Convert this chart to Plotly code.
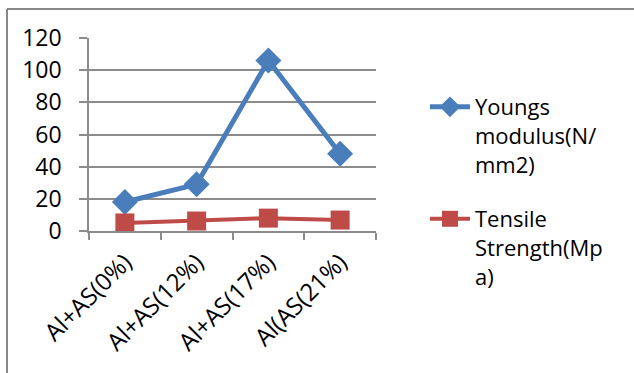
import plotly.graph_objects as go

# Composite samples and measured properties
categories = ["Al+AS(0%)", "Al+AS(12%)", "Al+AS(17%)", "Al(AS(21%)"]
youngs_modulus = [18, 29, 106, 48]
tensile_strength = [5, 6.2, 8, 6.8]
y_ticks = [0, 20, 40, 60, 80, 100, 120]

W, H = 634, 373
L, R, T, B = 89, 258, 38, 142
pw, ph = W - L - R, H - T - B

font_family = "Open Sans, Liberation Sans, sans-serif"
grid_col = "#8c8c8c"

fig = go.Figure()
fig.add_trace(go.Scatter(
    x=categories, y=youngs_modulus, mode="lines+markers",
    name="Youngs<br>modulus(N/<br>mm2)", legend="legend",
    line=dict(color="#4A7EBB", width=5),
    marker=dict(symbol="diamond", size=20, color="#4A7EBB"),
))
fig.add_trace(go.Scatter(
    x=categories, y=tensile_strength, mode="lines+markers",
    name="Tensile<br>Strength(Mp<br>a)", legend="legend2",
    line=dict(color="#BE4B48", width=4),
    marker=dict(symbol="square", size=19, color="#BE4B48"),
))


def px_x(p):
    return (p - L) / pw


def px_y(p):
    return (H - B - p) / ph


# outer frame (top and left edges visible)
fig.add_shape(type="line", xref="paper", yref="paper",
              x0=px_x(7), x1=px_x(W + 5), y0=px_y(9), y1=px_y(9),
              line=dict(color="#888888", width=2))
fig.add_shape(type="line", xref="paper", yref="paper",
              x0=px_x(7), x1=px_x(7), y0=px_y(9), y1=px_y(H + 5),
              line=dict(color="#888888", width=2))

legend_style = dict(
    xanchor="left", yanchor="top", valign="top",
    font=dict(family=font_family, size=22, color="black"),
    itemwidth=40, bgcolor="rgba(0,0,0,0)",
)

fig.update_layout(
    width=W, height=H,
    margin=dict(l=L, r=R, t=T, b=B),
    paper_bgcolor="white", plot_bgcolor="white",
    font=dict(family=font_family, size=22, color="black"),
    showlegend=True,
    legend=dict(x=px_x(425), y=px_y(86), **legend_style),
    legend2=dict(x=px_x(425), y=px_y(198), **legend_style),
    xaxis=dict(
        type="category", tickson="boundaries",
        showgrid=False, showline=True, linecolor=grid_col, linewidth=1.5,
        ticks="outside", ticklen=7, tickcolor=grid_col, tickwidth=1.5,
        tickangle=-45, tickfont=dict(size=24), ticklabelstandoff=6,
        range=[-0.5, 3.5],
    ),
    yaxis=dict(
        range=[0, 120], tickvals=y_ticks,
        showgrid=True, gridcolor=grid_col, gridwidth=1.5,
        showline=True, linecolor=grid_col, linewidth=1.5,
        ticks="outside", ticklen=8, tickcolor=grid_col, tickwidth=1.5,
        tickfont=dict(size=23), zeroline=False, ticklabelstandoff=13,
    ),
)

fig.write_html("out.html")
